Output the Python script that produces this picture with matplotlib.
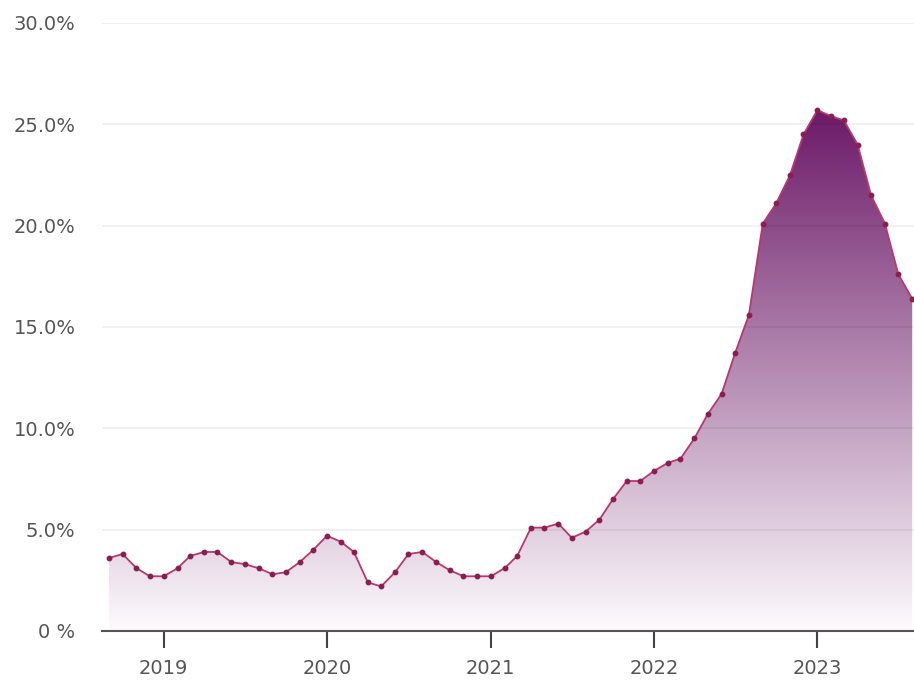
import matplotlib
matplotlib.use('Agg')
import matplotlib.pyplot as plt
import matplotlib.dates as mdates
import numpy as np
import pandas as pd
from matplotlib.colors import LinearSegmentedColormap

# Monthly inflation rate (%), Sep 2018 - Aug 2023
months = pd.date_range('2018-09-01', '2023-08-01', freq='MS')
rates = [
    3.6, 3.8, 3.1, 2.7,                                              # 2018
    2.7, 3.1, 3.7, 3.9, 3.9, 3.4, 3.3, 3.1, 2.8, 2.9, 3.4, 4.0,      # 2019
    4.7, 4.4, 3.9, 2.4, 2.2, 2.9, 3.8, 3.9, 3.4, 3.0, 2.7, 2.7,      # 2020
    2.7, 3.1, 3.7, 5.1, 5.1, 5.3, 4.6, 4.9, 5.5, 6.5, 7.4, 7.4,      # 2021
    7.9, 8.3, 8.5, 9.5, 10.7, 11.7, 13.7, 15.6, 20.1, 21.1, 22.5, 24.5,  # 2022
    25.7, 25.4, 25.2, 24.0, 21.5, 20.1, 17.6, 16.4,                  # 2023
]
y_ticks = [0, 5, 10, 15, 20, 25, 30]
y_tick_labels = ['0 %', '5.0%', '10.0%', '15.0%', '20.0%', '25.0%', '30.0%']
x_years = [2019, 2020, 2021, 2022, 2023]

plt.rcParams['font.family'] = ['DejaVu Sans']

fig = plt.figure(figsize=(9.14, 6.82), dpi=100)
ax = fig.add_axes([102 / 914, 51 / 682, 812 / 914, 608 / 682])

x = mdates.date2num(months)
y = np.array(rates)

# gradient fill under the line
fill = ax.fill_between(x, y, 0, color='none', lw=0)
cmap = LinearSegmentedColormap.from_list('fade', ['#fdfbfd', '#6c1a68'])
grad = np.linspace(0, 1, 256).reshape(-1, 1)
img = ax.imshow(grad, cmap=cmap, origin='lower', aspect='auto',
                extent=[x[0], x[-1], 0, y.max()], zorder=1, interpolation='bicubic')
img.set_clip_path(fill.get_paths()[0], transform=ax.transData)

# gridlines over the fill
for t in y_ticks[1:]:
    ax.axhline(t, color='black', alpha=0.07, lw=1.2, zorder=2)

ax.plot(x, y, color='#b8386e', lw=1.3, zorder=3)
ax.plot(x, y, 'o', color='#8a1f4f', ms=3.2, zorder=4)

ax.set_ylim(0, 30)
ax.set_xlim(mdates.date2num(pd.Timestamp('2018-08-16')),
            mdates.date2num(pd.Timestamp('2023-08-05')))

ax.set_yticks(y_ticks)
ax.set_yticklabels(y_tick_labels)
ax.set_xticks([mdates.date2num(pd.Timestamp(f'{yr}-01-01')) for yr in x_years])
ax.set_xticklabels([str(yr) for yr in x_years])

ax.tick_params(axis='y', length=0, pad=19, labelsize=14, labelcolor='#555555')
ax.tick_params(axis='x', length=12, width=1.5, color='#444444', pad=8,
               labelsize=14, labelcolor='#555555')

for side in ['top', 'right', 'left']:
    ax.spines[side].set_visible(False)
ax.spines['bottom'].set_color('#555555')
ax.spines['bottom'].set_linewidth(1.5)

fig.savefig('out.png', dpi=100)
